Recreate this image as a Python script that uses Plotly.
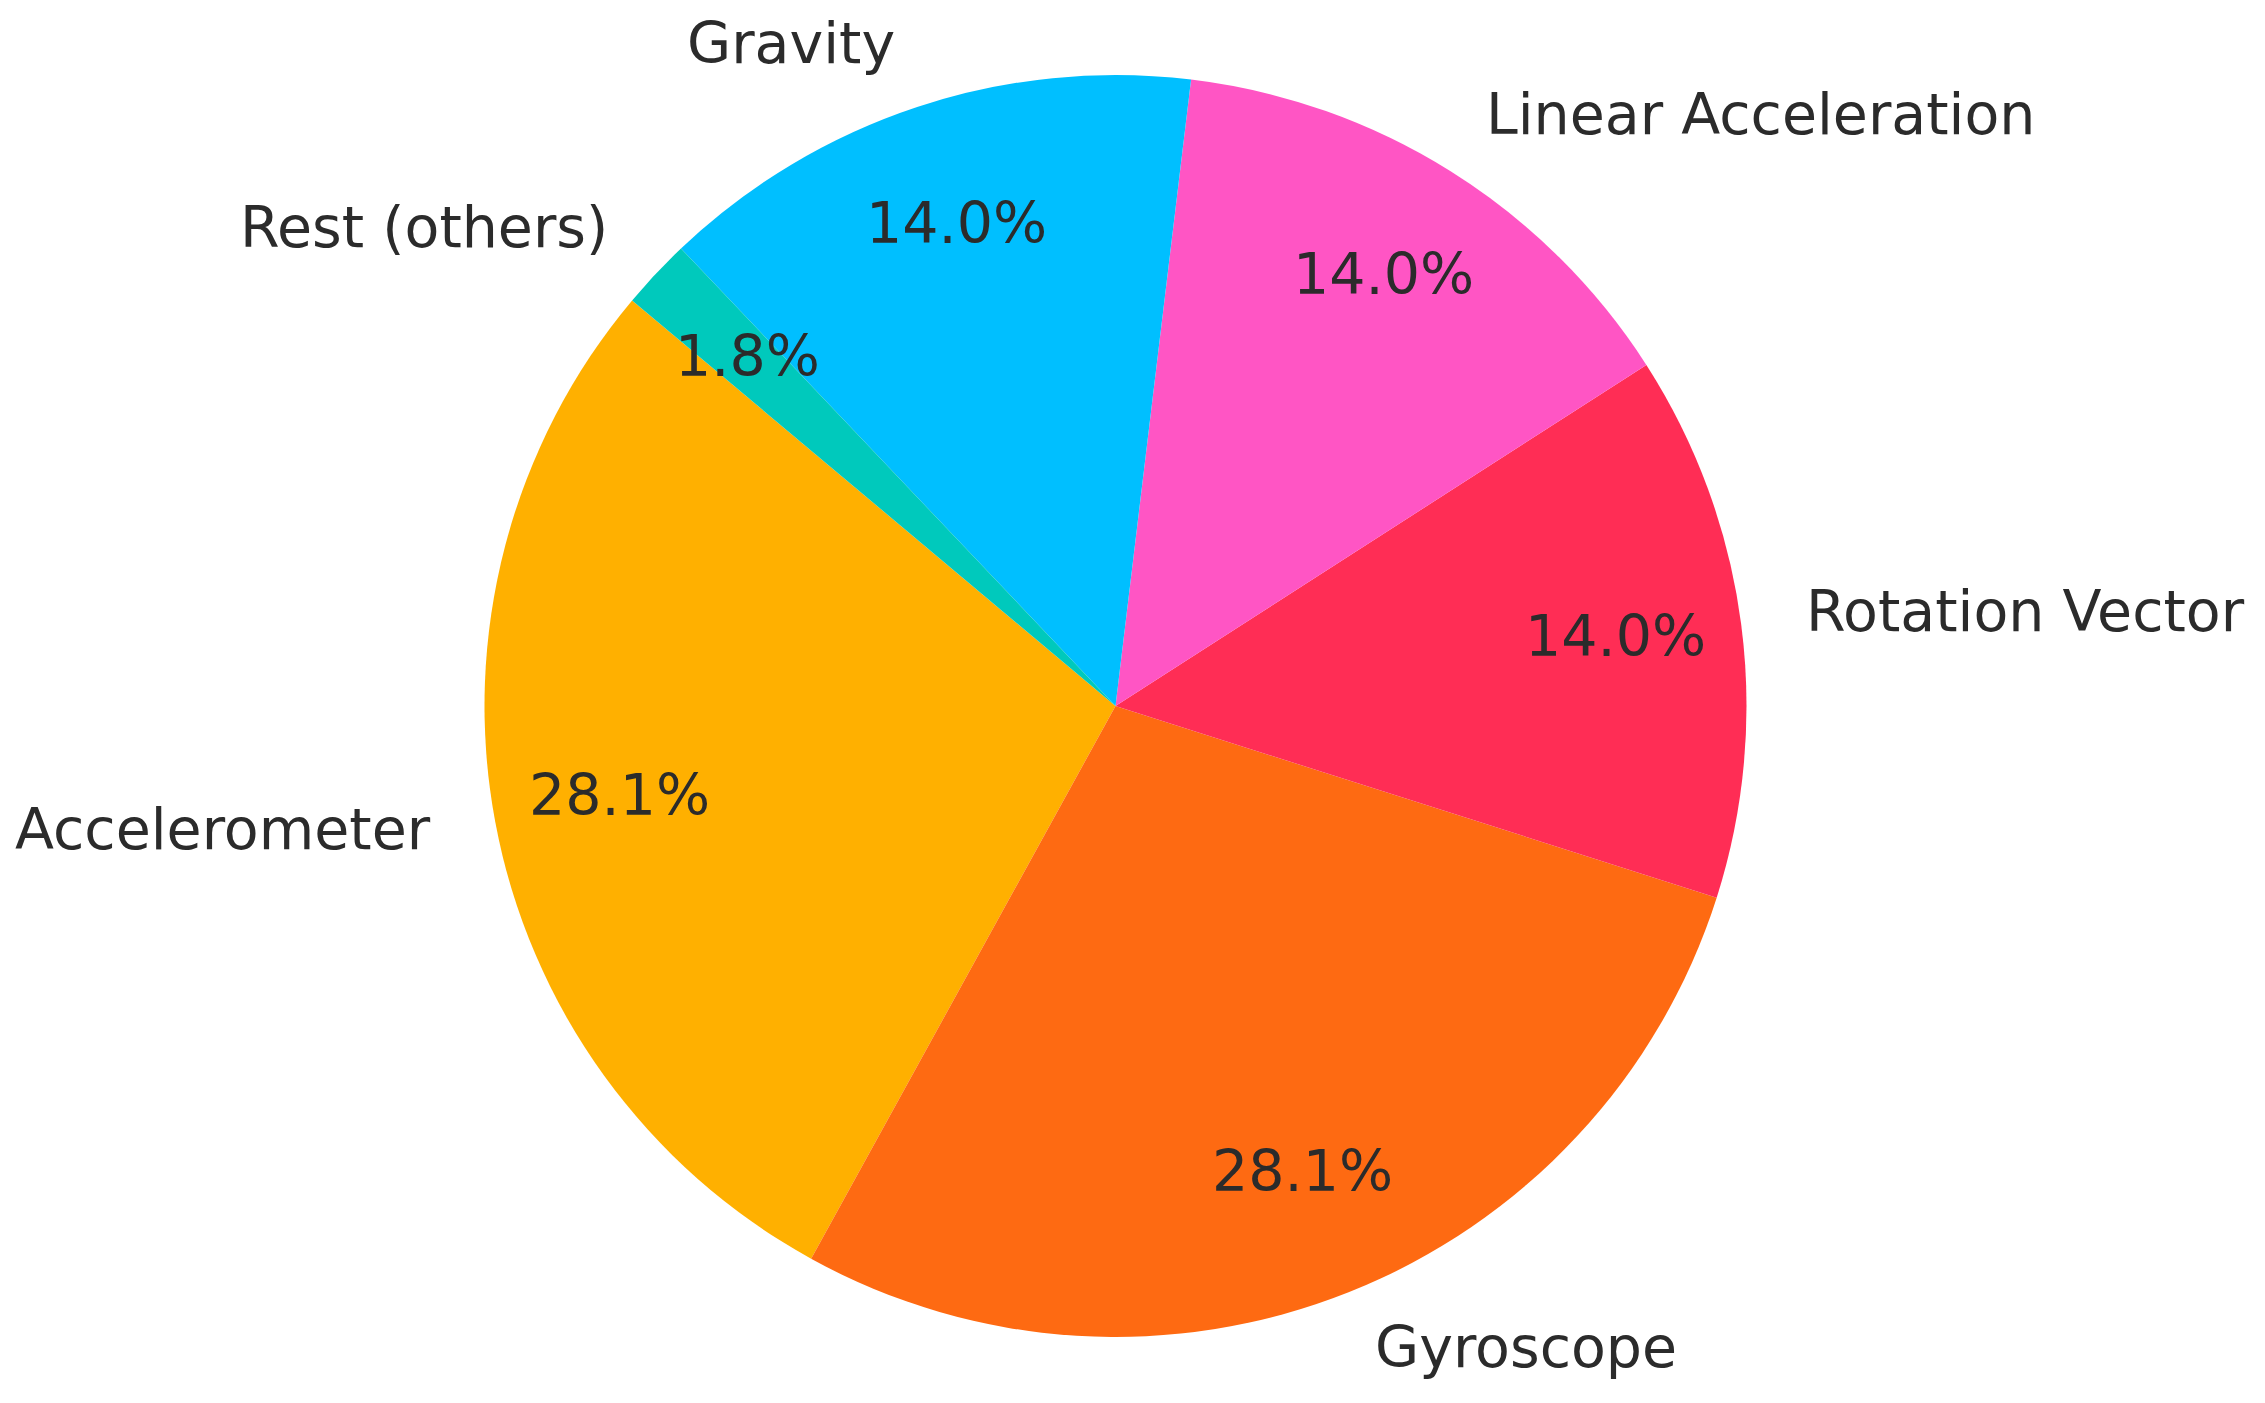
import math
import plotly.graph_objects as go

labels = ["Accelerometer", "Gyroscope", "Rotation Vector",
          "Linear Acceleration", "Gravity", "Rest (others)"]
values = [28.1, 28.1, 14.0, 14.0, 14.0, 1.8]
colors = ["#FFB000", "#FE6A12", "#FF2D55", "#FF55C4", "#00BFFF", "#00C9BC"]

PAGE_MARGIN = 8  # default browser body margin
W, H = 2265 - 2 * PAGE_MARGIN, 1403 - 2 * PAGE_MARGIN
cx_px, cy_px, r_px = 1115.5 - PAGE_MARGIN, 706.0 - PAGE_MARGIN, 631.0
start_angle = 140.0  # degrees, counterclockwise from 3 o'clock
label_dist = 1.1
pct_dist = 0.8
font_family = "DejaVu Sans"
font_size = 57
text_color = "#2b2b2b"
text_yshift = 4

total = sum(values)
first_span = 360.0 * values[0] / total
# plotly (counterclockwise): first slice ends at the rotation angle
plotly_rotation = 90.0 - (start_angle + first_span)

fig = go.Figure()
fig.add_trace(go.Pie(
    labels=labels,
    values=values,
    sort=False,
    direction="counterclockwise",
    rotation=plotly_rotation,
    marker=dict(colors=colors, line=dict(width=0)),
    textinfo="none",
    hoverinfo="label+percent",
    showlegend=False,
    domain=dict(x=[(cx_px - r_px) / W, (cx_px + r_px) / W],
                y=[1 - (cy_px + r_px) / H, 1 - (cy_px - r_px) / H]),
))

theta = start_angle
annotations = []
for lab, v in zip(labels, values):
    span = 360.0 * v / total
    mid = math.radians(theta + span / 2)
    theta += span
    c, s = math.cos(mid), math.sin(mid)
    lx = (cx_px + label_dist * r_px * c) / W
    ly = 1 - (cy_px - label_dist * r_px * s) / H
    annotations.append(dict(
        x=lx, y=ly, xref="paper", yref="paper", text=lab, showarrow=False,
        xanchor="left" if c > 0 else "right", yanchor="middle",
        yshift=text_yshift,
        font=dict(family=font_family, size=font_size, color=text_color),
    ))
    px = (cx_px + pct_dist * r_px * c) / W
    py = 1 - (cy_px - pct_dist * r_px * s) / H
    annotations.append(dict(
        x=px, y=py, xref="paper", yref="paper",
        text=f"{100.0 * v / total:.1f}%", showarrow=False,
        xanchor="center", yanchor="middle", yshift=text_yshift,
        font=dict(family=font_family, size=font_size, color=text_color),
    ))

fig.update_layout(
    width=W, height=H,
    margin=dict(l=0, r=0, t=0, b=0),
    paper_bgcolor="white",
    plot_bgcolor="white",
    annotations=annotations,
)

fig.write_html("out.html")
